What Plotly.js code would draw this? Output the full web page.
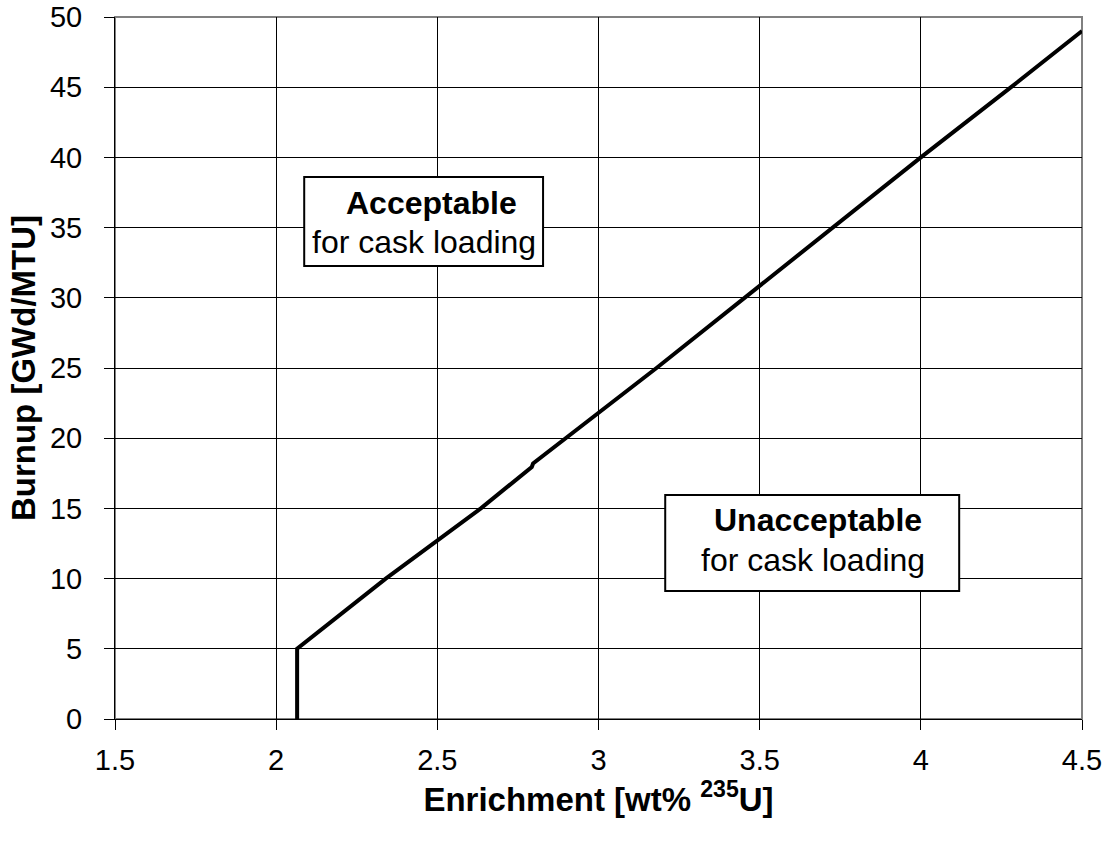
<!DOCTYPE html>
<html>
<head>
<meta charset="utf-8">
<script src="https://cdn.plot.ly/plotly-3.0.1.min.js"></script>
<style>html,body{margin:0;padding:0;background:#fff;}#chart{width:1110px;height:846px;}</style>
</head>
<body>
<div id="chart"></div>
<script>
const enrichment = [2.065, 2.065, 2.34, 2.635, 2.793, 2.797, 3.18, 4.0, 4.28, 4.5];
const burnup = [0, 5, 10, 15, 17.95, 18.2, 25, 40, 45, 49];
const xTicks = [1.5, 2, 2.5, 3, 3.5, 4, 4.5];
const yTicks = [0, 5, 10, 15, 20, 25, 30, 35, 40, 45, 50];
const boxAcceptable = {x0: 2.087, x1: 2.828, y0: 32.26, y1: 38.6};
const boxUnacceptable = {x0: 3.207, x1: 4.119, y0: 9.12, y1: 15.95};

const font = 'Liberation Sans, Arial, sans-serif';

const trace = {
  x: enrichment, y: burnup, mode: 'lines', type: 'scatter',
  line: {color: '#000', width: 4}, hoverinfo: 'skip', showlegend: false
};

function boxShape(b) {
  return {type: 'rect', xref: 'x', yref: 'y', x0: b.x0, x1: b.x1, y0: b.y0, y1: b.y1,
          line: {color: '#000', width: 2}, fillcolor: '#fff', layer: 'above'};
}

const layout = {
  width: 1110, height: 846,
  margin: {l: 115, r: 28, t: 17, b: 127},
  paper_bgcolor: '#fff', plot_bgcolor: '#fff',
  font: {family: font, size: 29, color: '#000'},
  xaxis: {
    range: [1.5, 4.5], tickvals: xTicks, ticktext: xTicks.map(String),
    showgrid: true, gridcolor: '#000', gridwidth: 1, zeroline: false,
    showline: true, linecolor: '#000', linewidth: 1,
    ticks: 'outside', ticklen: 10, tickcolor: '#000',
    ticklabelstandoff: 5,
    tickfont: {family: font, size: 29},
    title: {text: '<b>Enrichment [wt% <sup>235</sup>U]</b>', font: {family: font, size: 33}, standoff: 12}
  },
  yaxis: {
    range: [0, 50], tickvals: yTicks, ticktext: yTicks.map(String),
    showgrid: true, gridcolor: '#000', gridwidth: 1, zeroline: false,
    showline: true, linecolor: '#000', linewidth: 1,
    ticks: 'outside', ticklen: 10, tickcolor: '#000',
    ticklabelstandoff: 16,
    tickfont: {family: font, size: 29},
    title: {text: '<b>Burnup [GWd/MTU]</b>', font: {family: font, size: 33}, standoff: 4}
  },
  shapes: [
    {type: 'rect', xref: 'paper', yref: 'paper', x0: 0, x1: 1, y0: 0, y1: 1,
     line: {color: '#808080', width: 2}, layer: 'below'},
    boxShape(boxAcceptable), boxShape(boxUnacceptable)
  ],
  annotations: [
    {x: 2.481, y: 36.75, xref: 'x', yref: 'y', showarrow: false,
     text: '<b>Acceptable</b>', font: {family: font, size: 32}},
    {x: 2.459, y: 33.97, xref: 'x', yref: 'y', showarrow: false,
     text: 'for cask loading', font: {family: font, size: 32}},
    {x: 3.680, y: 14.17, xref: 'x', yref: 'y', showarrow: false,
     text: '<b>Unacceptable</b>', font: {family: font, size: 32}},
    {x: 3.665, y: 11.32, xref: 'x', yref: 'y', showarrow: false,
     text: 'for cask loading', font: {family: font, size: 32}}
  ]
};

Plotly.newPlot('chart', [trace], layout, {staticPlot: true, displayModeBar: false});
</script>
</body>
</html>
